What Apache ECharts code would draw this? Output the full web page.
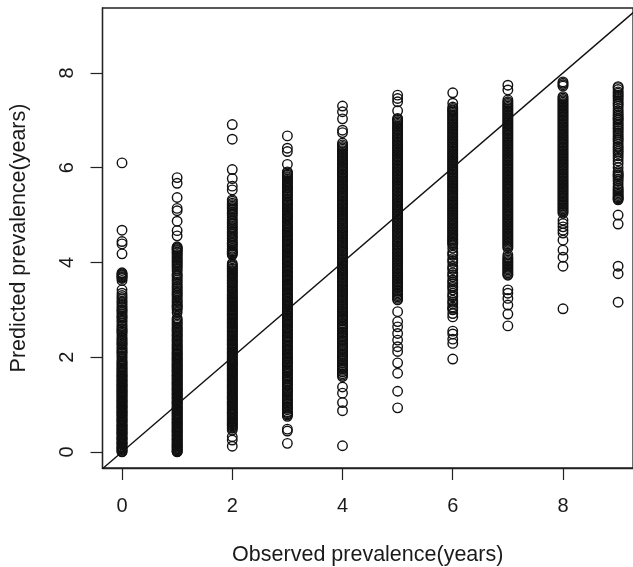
<!DOCTYPE html>
<html><head><meta charset="utf-8">
<script src="https://cdn.jsdelivr.net/npm/echarts@6/dist/echarts.min.js"></script>
<style>html,body{margin:0;padding:0;background:#fff}#c{width:633px;height:567px}</style></head>
<body><div id="c"></div>
<script>
const observed = [0,1,2,3,4,5,6,7,8,9];
const predicted0 = [0,.03,.07,.1,.15,.18,.22,.27,.3,.35,.39,.42,.47,.5,.55,.58,.63,.67,.7,.75,.79,.83,.86,.91,.95,.98,1.03,1.07,1.1,1.15,1.19,1.23,1.27,1.3,1.35,1.39,1.42,1.47,1.51,1.55,1.6,1.63,1.68,1.73,1.77,1.82,1.87,1.92,2.0,2.07,2.12,2.18,2.25,2.3,2.36,2.42,2.5,2.55,2.6,2.67,2.75,2.82,2.87,2.95,3.0,3.07,3.15,3.22,3.3,3.35,3.42,3.62,3.66,3.7,3.74,3.78,4.18,4.39,4.44,4.68,6.10];
const predicted1 = [0,.02,.06,.1,.13,.17,.21,.25,.28,.33,.36,.41,.44,.48,.52,.56,.6,.63,.68,.71,.76,.8,.83,.88,.91,.95,1.0,1.03,1.07,1.12,1.15,1.2,1.23,1.28,1.32,1.35,1.4,1.44,1.47,1.52,1.56,1.6,1.63,1.68,1.72,1.76,1.8,1.84,1.88,1.93,1.97,2.01,2.06,2.1,2.15,2.2,2.25,2.31,2.36,2.42,2.47,2.53,2.58,2.63,2.7,2.76,2.82,2.94,3.0,3.06,3.1,3.14,3.2,3.28,3.34,3.4,3.44,3.5,3.54,3.62,3.7,3.76,3.82,3.9,3.96,4.02,4.08,4.14,4.2,4.25,4.29,4.33,4.56,4.67,4.87,5.09,5.14,5.37,5.67,5.79];
const predicted2 = [.12,.25,.32,.46,.5,.55,.59,.63,.68,.72,.77,.81,.85,.9,.94,.99,1.03,1.07,1.12,1.16,1.2,1.25,1.29,1.34,1.38,1.42,1.47,1.51,1.55,1.6,1.64,1.68,1.73,1.77,1.82,1.86,1.9,1.95,1.99,2.04,2.08,2.12,2.17,2.21,2.26,2.3,2.35,2.39,2.44,2.48,2.53,2.57,2.62,2.66,2.71,2.75,2.8,2.84,2.89,2.93,2.98,3.02,3.07,3.11,3.16,3.2,3.25,3.3,3.35,3.4,3.46,3.52,3.57,3.62,3.68,3.73,3.78,3.83,3.88,3.93,3.98,4.16,4.2,4.24,4.3,4.37,4.42,4.5,4.56,4.63,4.7,4.76,4.83,4.9,5.0,5.06,5.13,5.19,5.25,5.32,5.53,5.61,5.77,5.96,6.6,6.91];
const predicted3 = [.18,.44,.48,.75,.8,.85,.92,.96,1.03,1.08,1.14,1.2,1.27,1.31,1.38,1.43,1.5,1.55,1.6,1.66,1.71,1.77,1.84,1.89,1.95,2.0,2.06,2.12,2.17,2.23,2.29,2.34,2.4,2.45,2.51,2.56,2.62,2.67,2.73,2.78,2.84,2.89,2.95,3.0,3.05,3.11,3.16,3.22,3.27,3.32,3.38,3.43,3.49,3.54,3.6,3.65,3.7,3.76,3.81,3.87,3.92,3.98,4.03,4.09,4.14,4.2,4.25,4.31,4.36,4.42,4.47,4.53,4.58,4.64,4.7,4.75,4.81,4.87,4.93,4.98,5.04,5.1,5.16,5.22,5.28,5.34,5.41,5.47,5.53,5.58,5.64,5.7,5.76,5.81,5.86,5.91,6.07,6.34,6.41,6.67];
const predicted4 = [.13,.87,1.04,1.24,1.37,1.59,1.65,1.72,1.78,1.84,1.92,1.97,2.04,2.1,2.17,2.23,2.29,2.36,2.42,2.48,2.53,2.6,2.66,2.72,2.79,2.85,2.91,2.97,3.03,3.09,3.15,3.21,3.27,3.33,3.39,3.45,3.51,3.57,3.63,3.69,3.75,3.81,3.87,3.93,3.99,4.05,4.11,4.17,4.23,4.29,4.35,4.41,4.47,4.53,4.59,4.65,4.71,4.77,4.83,4.89,4.95,5.01,5.07,5.13,5.19,5.25,5.31,5.37,5.43,5.49,5.55,5.61,5.67,5.73,5.79,5.85,5.91,5.97,6.03,6.09,6.15,6.21,6.27,6.33,6.39,6.45,6.52,6.74,6.79,7.03,7.18,7.3];
const predicted5 = [.93,1.28,1.66,1.88,2.12,2.22,2.36,2.5,2.64,2.75,2.96,3.21,3.27,3.33,3.39,3.46,3.52,3.58,3.64,3.7,3.76,3.82,3.88,3.94,4.0,4.06,4.12,4.18,4.24,4.3,4.36,4.42,4.48,4.54,4.6,4.66,4.72,4.78,4.84,4.9,4.96,5.02,5.08,5.14,5.2,5.26,5.32,5.38,5.44,5.5,5.56,5.62,5.68,5.74,5.8,5.86,5.92,5.98,6.04,6.1,6.16,6.22,6.28,6.34,6.4,6.46,6.52,6.58,6.64,6.7,6.76,6.82,6.88,6.94,7.0,7.04,7.2,7.39,7.46,7.53];
const predicted6 = [1.96,2.29,2.38,2.49,2.55,2.85,2.92,3.0,3.06,3.12,3.2,3.27,3.35,3.42,3.5,3.55,3.63,3.7,3.78,3.85,3.92,4.0,4.08,4.15,4.22,4.3,4.37,4.42,4.48,4.53,4.59,4.65,4.71,4.77,4.83,4.89,4.95,5.01,5.07,5.13,5.19,5.25,5.31,5.37,5.43,5.49,5.55,5.61,5.67,5.73,5.79,5.85,5.91,5.97,6.03,6.09,6.15,6.21,6.27,6.33,6.39,6.45,6.51,6.57,6.63,6.69,6.75,6.81,6.87,6.93,6.99,7.05,7.11,7.17,7.22,7.28,7.36,7.58];
const predicted7 = [2.66,2.91,3.1,3.24,3.35,3.42,3.73,3.78,3.84,3.9,3.96,4.02,4.08,4.16,4.3,4.36,4.42,4.48,4.54,4.6,4.66,4.72,4.78,4.84,4.9,4.96,5.02,5.08,5.14,5.2,5.26,5.32,5.38,5.44,5.5,5.56,5.62,5.68,5.74,5.8,5.86,5.92,5.98,6.04,6.1,6.16,6.22,6.28,6.34,6.4,6.46,6.52,6.58,6.64,6.7,6.76,6.82,6.88,6.94,7.0,7.06,7.12,7.18,7.24,7.3,7.36,7.43,7.64,7.74];
const predicted8 = [3.02,3.92,4.11,4.26,4.47,4.62,4.68,4.75,4.82,4.89,5.04,5.1,5.16,5.22,5.28,5.34,5.4,5.46,5.52,5.58,5.64,5.7,5.76,5.82,5.88,5.94,6.0,6.06,6.12,6.18,6.24,6.3,6.36,6.42,6.48,6.54,6.6,6.66,6.72,6.78,6.84,6.9,6.96,7.02,7.08,7.14,7.2,7.26,7.32,7.38,7.44,7.5,7.72,7.75,7.78,7.81];
const predicted9 = [3.16,3.76,3.92,4.81,5.0,5.32,5.36,5.41,5.47,5.53,5.6,5.72,5.8,5.85,5.92,6.08,6.2,6.3,6.38,6.45,6.55,6.62,6.7,6.78,6.85,6.92,7.0,7.05,7.12,7.2,7.3,7.37,7.46,7.53,7.6,7.69,7.71];
// further readings inside the solid parts of each column
const extra0 = [.01,.05,.09,.12,.17,.2,.25,.29,.32,.37,.41,.45,.49,.53,.56,.61,.65,.69,.73,.77,.81,.85,.89,.93,.97,1.01,1.05,1.09,1.13,1.17,1.21,1.25,1.29,1.33,1.37,1.41,1.45,1.49,1.53,1.58,1.61,1.66,1.7,1.75,1.8,1.85,1.9,1.96,2.03,2.1,2.15,2.21,2.28,2.33,2.39,2.46,2.53,2.58,2.64,2.71,2.78,2.85,2.91,2.98,3.04,3.11,3.18,3.26,3.68,3.72,3.76];
const extra1 = [.01,.04,.08,.12,.15,.19,.23,.27,.31,.35,.39,.43,.46,.5,.54,.58,.62,.66,.7,.74,.78,.82,.86,.9,.93,.97,1.02,1.05,1.09,1.14,1.18,1.22,1.26,1.3,1.34,1.38,1.42,1.46,1.5,1.54,1.58,1.62,1.66,1.7,1.74,1.78,1.82,1.86,1.91,1.95,1.99,2.04,2.08,2.13,2.18,2.23,2.28,2.34,2.39,2.45,2.5,2.56,2.61,2.67,2.73,2.79,3.03,3.08,3.17,3.24,3.31,3.37,3.47,3.58,3.66,3.73,3.86,3.93,3.99,4.05,4.11,4.17,4.22,4.27,4.31];
const extra2 = [.52,.57,.61,.65,.7,.74,.79,.83,.88,.92,.97,1.01,1.05,1.1,1.14,1.18,1.23,1.27,1.32,1.36,1.4,1.45,1.49,1.53,1.58,1.62,1.66,1.71,1.75,1.8,1.84,1.88,1.93,1.97,2.02,2.06,2.1,2.15,2.19,2.24,2.28,2.33,2.37,2.42,2.46,2.51,2.55,2.6,2.64,2.69,2.73,2.78,2.82,2.87,2.91,2.96,3.0,3.05,3.09,3.14,3.18,3.23,3.28,3.33,3.38,3.43,3.49,3.55,3.6,3.65,3.71,3.76,3.81,3.86,3.91,3.95,4.18,4.22,4.27,4.34,4.4,4.46,4.53,4.6,4.66,4.73,4.8,4.87,4.95,5.03,5.1,5.16,5.22,5.29];
const extra3 = [.78,.83,.89,.94,1.0,1.06,1.11,1.17,1.24,1.29,1.35,1.41,1.47,1.53,1.58,1.63,1.69,1.74,1.8,1.87,1.92,1.98,2.03,2.09,2.15,2.2,2.26,2.32,2.37,2.43,2.48,2.54,2.59,2.65,2.7,2.76,2.81,2.87,2.92,2.98,3.02,3.08,3.13,3.19,3.25,3.3,3.35,3.41,3.46,3.52,3.57,3.63,3.68,3.73,3.79,3.84,3.9,3.95,4.01,4.06,4.12,4.17,4.23,4.28,4.34,4.39,4.45,4.5,4.56,4.61,4.67,4.73,4.78,4.84,4.9,4.96,5.01,5.07,5.13,5.19,5.25,5.31,5.38,5.44,5.5,5.56,5.61,5.67,5.73,5.79,5.84,5.89];
const extra4 = [1.62,1.69,1.75,1.81,1.88,1.95,2.01,2.07,2.14,2.2,2.26,2.33,2.39,2.45,2.51,2.57,2.63,2.69,2.76,2.82,2.88,2.94,3.0,3.06,3.12,3.18,3.24,3.3,3.36,3.42,3.48,3.54,3.6,3.66,3.72,3.78,3.84,3.9,3.96,4.02,4.08,4.14,4.2,4.26,4.32,4.38,4.44,4.5,4.56,4.62,4.68,4.74,4.8,4.86,4.92,4.98,5.04,5.1,5.16,5.22,5.28,5.34,5.4,5.46,5.52,5.58,5.64,5.7,5.76,5.82,5.88,5.94,6.0,6.06,6.12,6.18,6.24,6.3,6.36,6.42,6.48];
const extra5 = [3.24,3.3,3.36,3.42,3.49,3.55,3.61,3.67,3.73,3.79,3.85,3.91,3.97,4.03,4.09,4.15,4.21,4.27,4.33,4.39,4.45,4.51,4.57,4.63,4.69,4.75,4.81,4.87,4.93,4.99,5.05,5.11,5.17,5.23,5.29,5.35,5.41,5.47,5.53,5.59,5.65,5.71,5.77,5.83,5.89,5.95,6.01,6.07,6.13,6.19,6.25,6.31,6.37,6.43,6.49,6.55,6.61,6.67,6.73,6.79,6.85,6.91,6.97,7.02];
const extra6 = [4.4,4.45,4.5,4.56,4.62,4.68,4.74,4.8,4.86,4.92,4.98,5.04,5.1,5.16,5.22,5.28,5.34,5.4,5.46,5.52,5.58,5.64,5.7,5.76,5.82,5.88,5.94,6.0,6.06,6.12,6.18,6.24,6.3,6.36,6.42,6.48,6.54,6.6,6.66,6.72,6.78,6.84,6.9,6.96,7.02,7.08,7.14,7.2,7.25,3.03,3.16,3.3,3.47,3.59,3.74,3.88,4.04,4.18];
const extra7 = [3.75,3.81,3.87,3.93,3.99,4.05,4.11,4.33,4.39,4.45,4.51,4.57,4.63,4.69,4.75,4.81,4.87,4.93,4.99,5.05,5.11,5.17,5.23,5.29,5.35,5.41,5.47,5.53,5.59,5.65,5.71,5.77,5.83,5.89,5.95,6.01,6.07,6.13,6.19,6.25,6.31,6.37,6.43,6.49,6.55,6.61,6.67,6.73,6.79,6.85,6.91,6.97,7.03,7.09,7.15,7.21,7.27,7.33,7.39];
const extra8 = [5.07,5.13,5.19,5.25,5.31,5.37,5.43,5.49,5.55,5.61,5.67,5.73,5.79,5.85,5.91,5.97,6.03,6.09,6.15,6.21,6.27,6.33,6.39,6.45,6.51,6.57,6.63,6.69,6.75,6.81,6.87,6.93,6.99,7.05,7.11,7.17,7.23,7.29,7.35,7.41,7.47];
const extra9 = [5.34,5.38,5.44,5.5,5.56,5.66,5.76,5.83,5.88,6.0,6.14,6.25,6.34,6.42,6.5,6.59,6.66,6.74,6.82,6.89,6.96,7.03,7.09,7.16,7.25,7.34,7.42,7.5,7.57,7.65];
const predictedByObserved = [predicted0.concat(extra0),predicted1.concat(extra1),predicted2.concat(extra2),predicted3.concat(extra3),predicted4.concat(extra4),predicted5.concat(extra5),predicted6.concat(extra6),predicted7.concat(extra7),predicted8.concat(extra8),predicted9.concat(extra9)];
const xTicks = [0,2,4,6,8];
const yTicks = [0,2,4,6,8];
const diagonal = [-0.36,9.3];
const xTitle = 'Observed prevalence(years)';
const yTitle = 'Predicted prevalence(years)';

const points = [];
observed.forEach((x,i)=>predictedByObserved[i].forEach(y=>points.push([x,y])));
const ink = '#1a1a1a';
const axisCommon = {
  type:'value', nameLocation:'middle', scale:false,
  nameTextStyle:{fontFamily:'Liberation Sans',fontSize:21.5,color:ink},
  splitLine:{show:false},
  axisLine:{show:true,onZero:false,lineStyle:{color:'#222',width:1.3}},
  axisTick:{show:true,length:12,inside:false,lineStyle:{color:'#222',width:1.2}}
};
const chart = echarts.init(document.getElementById('c'),null,{renderer:'canvas'});
chart.setOption({
  animation:false,
  backgroundColor:'#fff',
  grid:{left:102.5,right:0,top:8,bottom:99,outerBoundsMode:'none',show:true,borderColor:'#222',borderWidth:1.3,backgroundColor:'transparent'},
  xAxis:Object.assign({},axisCommon,{
    min:-0.354,max:9.27,name:xTitle,nameGap:76,
    axisTick:Object.assign({},axisCommon.axisTick,{customValues:xTicks}),
    axisLabel:{customValues:xTicks,margin:28,fontFamily:'Liberation Sans',fontSize:20,color:ink,showMinLabel:true,showMaxLabel:true}
  }),
  yAxis:Object.assign({},axisCommon,{
    min:-0.34,max:9.37,name:yTitle,nameGap:72,
    axisTick:Object.assign({},axisCommon.axisTick,{customValues:yTicks}),
    axisLabel:{customValues:yTicks,rotate:90,margin:25,fontFamily:'Liberation Sans',fontSize:20,color:ink}
  }),
  series:[
    {type:'scatter',data:points,symbol:'circle',symbolSize:9.5,large:false,silent:true,
     itemStyle:{color:'rgba(0,0,0,0)',borderColor:'#111',borderWidth:1.4,opacity:1}},
    {type:'line',data:diagonal.map(v=>[v,v]),symbol:'none',silent:true,clip:true,z:3,
     lineStyle:{color:'#111',width:1.4}}
  ]
});
</script></body></html>
